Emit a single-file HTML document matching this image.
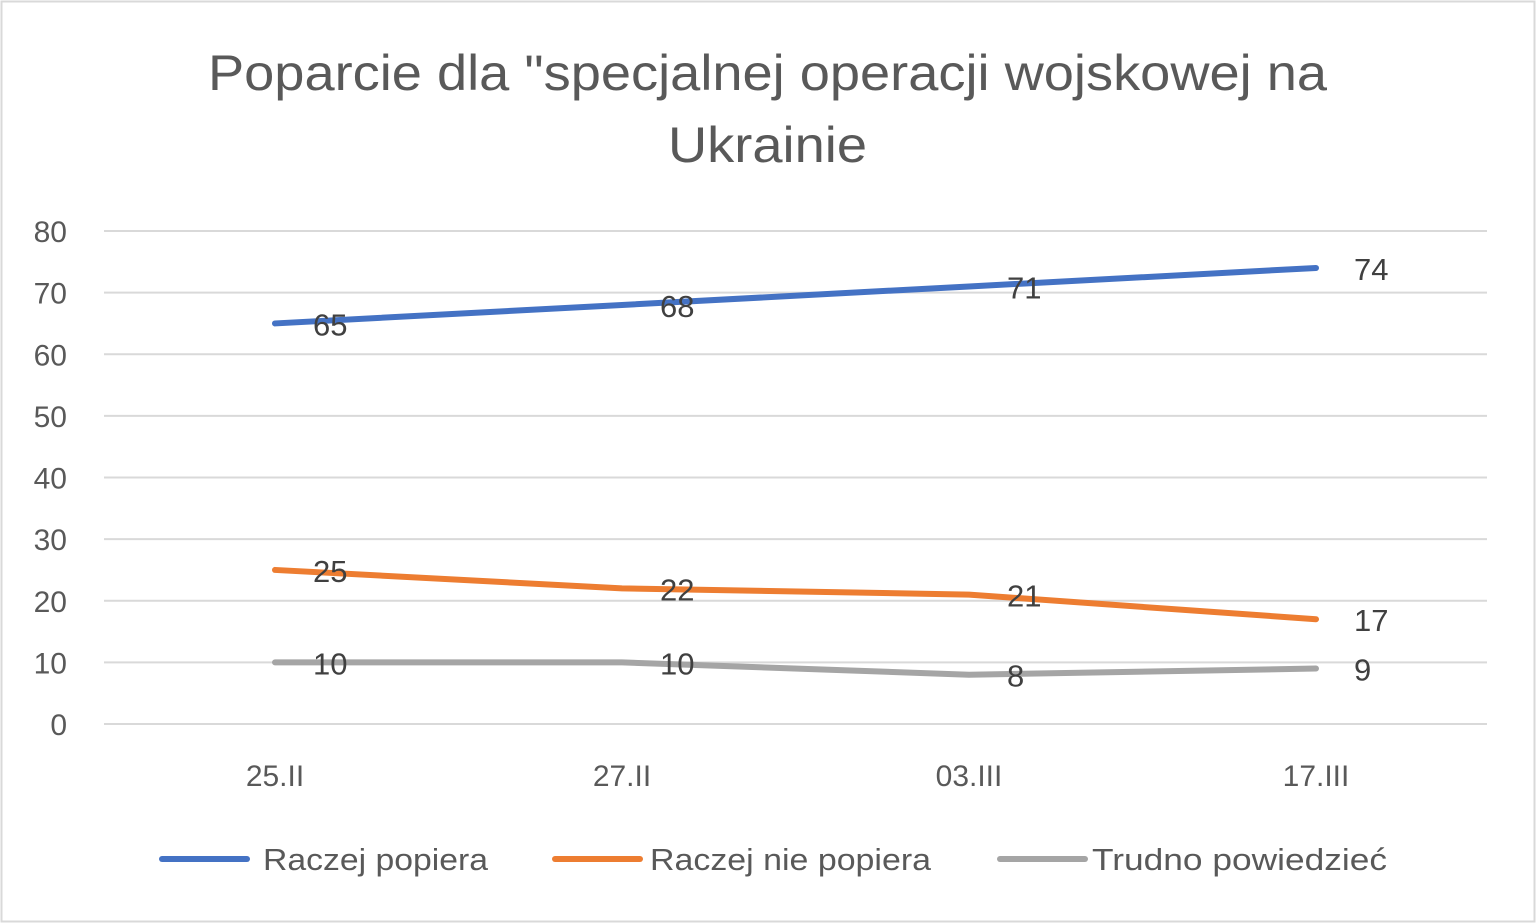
<!DOCTYPE html>
<html><head><meta charset="utf-8"><style>
html,body{margin:0;padding:0;background:#fff;}
svg{display:block;font-family:"Liberation Sans",sans-serif;}
</style></head><body>
<svg id="chart" width="1536" height="923" viewBox="0 0 1536 923">
<rect x="1.5" y="1.5" width="1533" height="920" fill="#fff" stroke="#d9d9d9" stroke-width="2"/>
<text x="208" y="90" font-size="50" fill="#595959" textLength="1119" lengthAdjust="spacingAndGlyphs">Poparcie dla "specjalnej operacji wojskowej na</text>
<text x="668" y="162" font-size="50" fill="#595959" textLength="199" lengthAdjust="spacingAndGlyphs">Ukrainie</text>
<g id="grid"></g><g id="yt"></g><g id="xt"></g><g id="series"></g><g id="labels"></g>
<g>
<line x1="162" y1="859" x2="247" y2="859" stroke="#4472c4" stroke-width="6" stroke-linecap="round"/>
<text x="263" y="870" font-size="31" fill="#595959" textLength="225" lengthAdjust="spacingAndGlyphs">Raczej popiera</text>
<line x1="555" y1="859" x2="640" y2="859" stroke="#ed7d31" stroke-width="6" stroke-linecap="round"/>
<text x="650" y="870" font-size="31" fill="#595959" textLength="281" lengthAdjust="spacingAndGlyphs">Raczej nie popiera</text>
<line x1="1000" y1="859" x2="1085" y2="859" stroke="#a5a5a5" stroke-width="6" stroke-linecap="round"/>
<text x="1092" y="870" font-size="31" fill="#595959" textLength="295" lengthAdjust="spacingAndGlyphs">Trudno powiedzieć</text>
</g>
</svg>
<script>
const categories=["25.II","27.II","03.III","17.III"];
const popiera=[65,68,71,74];
const niePopiera=[25,22,21,17];
const trudno=[10,10,8,9];
const yTicks=[0,10,20,30,40,50,60,70,80];
const NS="http://www.w3.org/2000/svg";
function y(v){return 724-v*(724-231)/80;}
function x(i){return 275+i*347;}
function mk(t,a,p){const e=document.createElementNS(NS,t);for(const k in a)e.setAttribute(k,a[k]);p.appendChild(e);return e;}
const grid=document.getElementById('grid'),yt=document.getElementById('yt'),xt=document.getElementById('xt'),ser=document.getElementById('series'),lab=document.getElementById('labels');
yTicks.forEach(v=>{
 const l=mk('line',{x1:104,x2:1487,y1:y(v),y2:y(v),stroke:'#d9d9d9','stroke-width':2},grid);
 
 
 const t=mk('text',{x:67,y:y(v)+11,'font-size':30,fill:'#595959','text-anchor':'end'},yt);
 t.textContent=v;
 
 
});
categories.forEach((c,i)=>{
 const t=mk('text',{x:x(i),y:786,'font-size':30,fill:'#595959','text-anchor':'middle'},xt);
 t.textContent=c;
 
 
});
[[popiera,'#4472c4','popiera'],[niePopiera,'#ed7d31','nie-popiera'],[trudno,'#a5a5a5','trudno']].forEach(([d,col,n])=>{
 const p=mk('polyline',{points:d.map((v,i)=>x(i)+','+y(v)).join(' '),fill:'none',stroke:col,'stroke-width':6,'stroke-linecap':'round','stroke-linejoin':'round'},ser);
 
 
 d.forEach((v,i)=>{
  const t=mk('text',{x:x(i)+38,y:y(v)+12,'font-size':31,fill:'#404040'},lab);
  t.textContent=v;
  
  
 });
});
</script>
</body></html>
